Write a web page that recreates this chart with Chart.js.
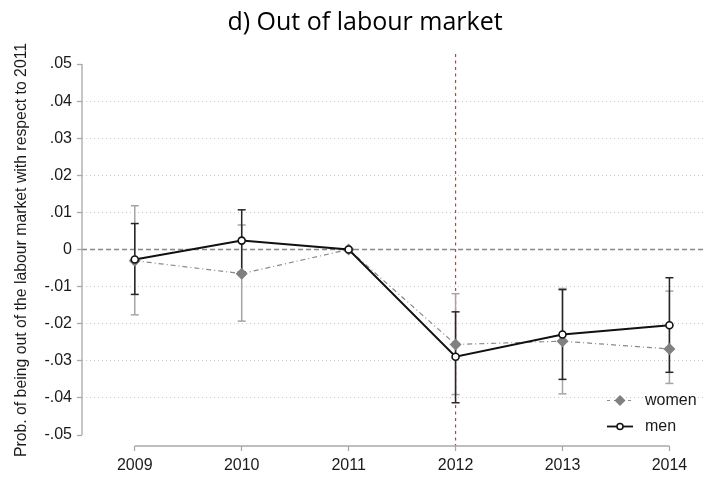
<!DOCTYPE html>
<html>
<head>
<meta charset="utf-8">
<script src="https://cdn.jsdelivr.net/npm/chart.js@4/dist/chart.umd.min.js"></script>
<style>
  html, body { margin: 0; padding: 0; background: #fff; }
  #wrap { width: 709px; height: 477px; }
</style>
</head>
<body>
<div id="wrap"><canvas id="c" width="709" height="477"></canvas></div>
<script>
// Survey years
const years = [2009, 2010, 2011, 2012, 2013, 2014];

// Women: point estimates and 95% confidence bounds
const women     = [-0.0030, -0.0065, 0, -0.0256, -0.0247, -0.0268];
const womenLow  = [-0.0176, -0.0193, 0, -0.0391, -0.0389, -0.0361];
const womenHigh = [ 0.0118,  0.0066, 0, -0.0119, -0.0105, -0.0112];

// Men: point estimates and 95% confidence bounds
const men     = [-0.0027,  0.0024, 0, -0.0289, -0.0229, -0.0204];
const menLow  = [-0.0121, -0.0060, 0, -0.0413, -0.0350, -0.0331];
const menHigh = [ 0.0070,  0.0107, 0, -0.0168, -0.0108, -0.0076];

// Y axis ticks
const yTickValues = [0.05, 0.04, 0.03, 0.02, 0.01, 0, -0.01, -0.02, -0.03, -0.04, -0.05];
const yTickLabels = ['.05', '.04', '.03', '.02', '.01', '0', '-.01', '-.02', '-.03', '-.04', '-.05'];

// Year marked with the vertical line
const referenceYear = 2012;

const chartTitle = 'd) Out of labour market';
const yTitle = 'Prob. of being out of the labour market with respect to 2011';

const TICK_FONT = { family: 'Liberation Sans, Arial, sans-serif', size: 16 };

function strokeLine(ctx, x1, y1, x2, y2) {
  ctx.beginPath();
  ctx.moveTo(x1, y1);
  ctx.lineTo(x2, y2);
  ctx.stroke();
}

const extras = {
  id: 'extras',
  beforeDatasetsDraw(chart) {
    const { ctx, chartArea: a, scales: { x, y } } = chart;
    ctx.save();

    // dashed zero line
    ctx.strokeStyle = '#888888';
    ctx.lineWidth = 1.4;
    ctx.setLineDash([5, 3]);
    const y0 = y.getPixelForValue(0);
    strokeLine(ctx, a.left, y0, a.right, y0);

    // vertical marker at the reform year
    ctx.strokeStyle = '#ee2a2a';
    ctx.lineWidth = 1.2;
    ctx.setLineDash([3, 3.5]);
    const xr = x.getPixelForValue(referenceYear);
    strokeLine(ctx, xr, a.top, xr, a.bottom);

    // axis lines spanning only the labelled range
    ctx.setLineDash([]);
    ctx.strokeStyle = '#a8a8a8';
    ctx.lineWidth = 1.3;
    strokeLine(ctx, a.left, y.getPixelForValue(yTickValues[0]),
                    a.left, y.getPixelForValue(yTickValues[yTickValues.length - 1]));
    strokeLine(ctx, x.getPixelForValue(years[0]), a.bottom,
                    x.getPixelForValue(years[years.length - 1]), a.bottom);

    // confidence intervals
    const drawCI = (lows, highs, color) => {
      ctx.strokeStyle = color;
      ctx.lineWidth = 1.5;
      years.forEach((yr, i) => {
        if (lows[i] === highs[i]) return;
        const px = x.getPixelForValue(yr);
        const pl = y.getPixelForValue(lows[i]);
        const ph = y.getPixelForValue(highs[i]);
        strokeLine(ctx, px, pl, px, ph);
        strokeLine(ctx, px - 4, pl, px + 4, pl);
        strokeLine(ctx, px - 4, ph, px + 4, ph);
      });
    };
    drawCI(womenLow, womenHigh, '#a5a5a5');
    drawCI(menLow, menHigh, '#262626');

    ctx.restore();
  },
  afterDraw(chart) {
    const { ctx, chartArea: a } = chart;
    ctx.save();

    // title
    ctx.fillStyle = '#000';
    ctx.font = '25px "Open Sans", sans-serif';
    ctx.textAlign = 'center';
    ctx.textBaseline = 'alphabetic';
    ctx.fillText(chartTitle, 365, 29.5);

    // key
    const mx = a.right - 83;
    const tx = a.right - 58;
    const rowW = a.bottom - 45.5;
    const rowM = a.bottom - 19.5;

    ctx.strokeStyle = '#8a8a8a';
    ctx.lineWidth = 1.2;
    ctx.setLineDash([3, 4]);
    strokeLine(ctx, mx - 13, rowW, mx + 13, rowW);
    ctx.setLineDash([]);
    ctx.fillStyle = '#808080';
    ctx.beginPath();
    ctx.moveTo(mx, rowW - 5.5);
    ctx.lineTo(mx + 5.5, rowW);
    ctx.lineTo(mx, rowW + 5.5);
    ctx.lineTo(mx - 5.5, rowW);
    ctx.closePath();
    ctx.fill();

    ctx.strokeStyle = '#111';
    ctx.lineWidth = 1.8;
    strokeLine(ctx, mx - 13, rowM, mx + 13, rowM);
    ctx.fillStyle = '#fff';
    ctx.lineWidth = 1.5;
    ctx.beginPath();
    ctx.arc(mx, rowM, 3, 0, Math.PI * 2);
    ctx.fill();
    ctx.stroke();

    ctx.fillStyle = '#1a1a1a';
    ctx.font = '16px "Liberation Sans", Arial, sans-serif';
    ctx.textBaseline = 'middle';
    ctx.textAlign = 'left';
    ctx.fillText('women', tx, rowW);
    ctx.fillText('men', tx, rowM);
    ctx.restore();
  }
};

new Chart(document.getElementById('c'), {
  type: 'line',
  data: {
    datasets: [
      {
        label: 'men',
        data: years.map((yr, i) => ({ x: yr, y: men[i] })),
        borderColor: '#111',
        borderWidth: 2,
        pointStyle: 'circle',
        pointRadius: 3.5,
        pointBorderWidth: 1.6,
        pointBorderColor: '#111',
        pointBackgroundColor: '#fff',
        tension: 0
      },
      {
        label: 'women',
        data: years.map((yr, i) => ({ x: yr, y: women[i] })),
        borderColor: '#8a8a8a',
        borderWidth: 1.2,
        borderDash: [5, 3, 1, 3],
        pointStyle: 'rectRot',
        pointRadius: 6,
        pointBorderWidth: 0,
        pointBackgroundColor: '#808080',
        tension: 0
      }
    ]
  },
  options: {
    responsive: false,
    animation: false,
    devicePixelRatio: 1,
    layout: { padding: { left: 0, right: 3, top: 54, bottom: 0 } },
    plugins: {
      legend: { display: false },
      tooltip: { enabled: false },
      title: { display: false }
    },
    scales: {
      x: {
        type: 'linear',
        min: 2008.5065,
        max: 2014.314,
        afterBuildTicks(scale) { scale.ticks = years.map(v => ({ value: v })); },
        afterFit(scale) { scale.height = 31; },
        ticks: {
          color: '#1a1a1a',
          font: TICK_FONT,
          padding: 5,
          maxRotation: 0,
          autoSkip: false,
          callback: v => String(v)
        },
        grid: {
          drawOnChartArea: false,
          drawTicks: true,
          tickLength: 5,
          tickColor: '#a8a8a8',
          tickWidth: 1.3
        },
        border: { display: false }
      },
      y: {
        type: 'linear',
        min: -0.05296,
        max: 0.0527,
        afterBuildTicks(scale) { scale.ticks = yTickValues.map(v => ({ value: v })); },
        afterFit(scale) { scale.width = 82; },
        ticks: {
          color: '#1a1a1a',
          font: TICK_FONT,
          padding: 5,
          autoSkip: false,
          callback: (v, i) => yTickLabels[i]
        },
        grid: {
          drawTicks: true,
          tickLength: 5,
          tickColor: '#a8a8a8',
          tickWidth: 1.3,
          lineWidth: 1,
          color: c => {
            const v = c.tick ? c.tick.value : null;
            if (v === null || v === 0 || v === 0.05 || v === -0.05) return 'rgba(0,0,0,0)';
            return '#c8c8c8';
          }
        },
        border: { display: false, dash: [1, 3] },
        title: {
          display: true,
          text: yTitle,
          color: '#1a1a1a',
          font: { family: 'Liberation Sans, Arial, sans-serif', size: 15.8 },
          padding: { top: 12, bottom: 0 }
        }
      }
    }
  },
  plugins: [extras]
});
</script>
</body>
</html>
